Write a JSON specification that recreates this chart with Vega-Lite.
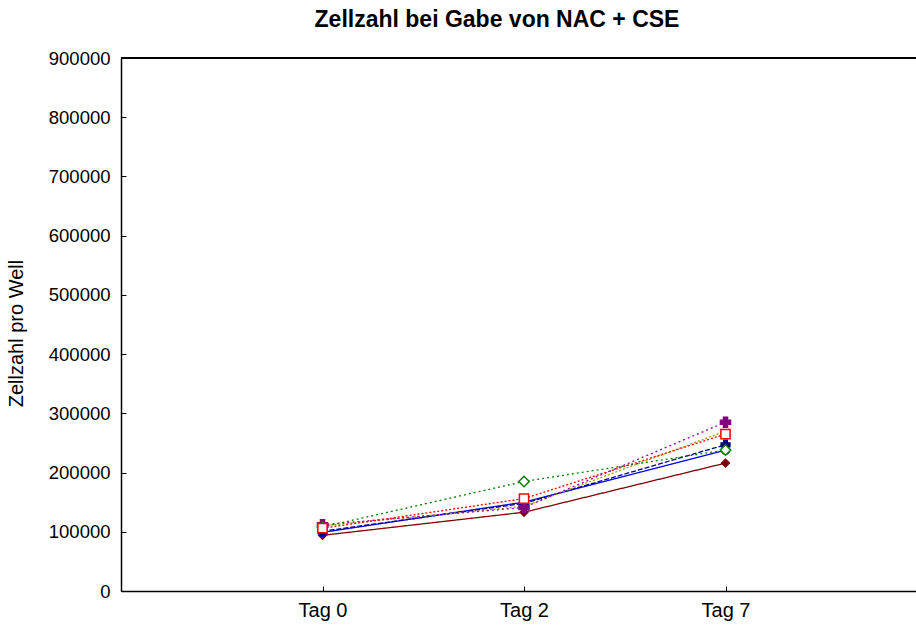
{
  "$schema": "https://vega.github.io/schema/vega-lite/v6.json",
  "width": 806,
  "height": 533,
  "autosize": {"type": "none"},
  "padding": {"left": 121, "top": 58, "right": 0, "bottom": 34},
  "background": "white",
  "config": {
    "view": {"stroke": null},
    "font": "Liberation Sans",
    "axis": {"grid": false, "domainColor": "black", "tickColor": "black", "labelColor": "black", "titleColor": "black", "labelFont": "Liberation Sans", "titleFont": "Liberation Sans"}
  },
  "title": {"text": "Zellzahl bei Gabe von NAC + CSE", "font": "Liberation Sans", "fontSize": 23, "fontWeight": "bold", "color": "black", "anchor": "middle", "frame": "group", "dx": -27, "offset": 17},
  "data": {"values": [
    {"serie": "S1", "tag": "Tag 0", "zellzahl": 94000},
    {"serie": "S1", "tag": "Tag 2", "zellzahl": 133000},
    {"serie": "S1", "tag": "Tag 7", "zellzahl": 216000},
    {"serie": "S2", "tag": "Tag 0", "zellzahl": 99000},
    {"serie": "S2", "tag": "Tag 2", "zellzahl": 150000},
    {"serie": "S2", "tag": "Tag 7", "zellzahl": 238000},
    {"serie": "S3", "tag": "Tag 0", "zellzahl": 101000},
    {"serie": "S3", "tag": "Tag 2", "zellzahl": 148000},
    {"serie": "S3", "tag": "Tag 7", "zellzahl": 247000},
    {"serie": "S5", "tag": "Tag 0", "zellzahl": 110000},
    {"serie": "S5", "tag": "Tag 2", "zellzahl": 143000},
    {"serie": "S5", "tag": "Tag 7", "zellzahl": 270000},
    {"serie": "S6", "tag": "Tag 0", "zellzahl": 112000},
    {"serie": "S6", "tag": "Tag 2", "zellzahl": 141000},
    {"serie": "S6", "tag": "Tag 7", "zellzahl": 285000},
    {"serie": "S7", "tag": "Tag 0", "zellzahl": 108000},
    {"serie": "S7", "tag": "Tag 2", "zellzahl": 185000},
    {"serie": "S7", "tag": "Tag 7", "zellzahl": 238000},
    {"serie": "S4", "tag": "Tag 0", "zellzahl": 106000},
    {"serie": "S4", "tag": "Tag 2", "zellzahl": 156000},
    {"serie": "S4", "tag": "Tag 7", "zellzahl": 265000}
  ]},
  "encoding": {
    "x": {"field": "tag", "type": "ordinal", "scale": {"type": "point", "padding": 1},
      "axis": {"title": null, "labelAngle": 0, "labelFontSize": 20, "tickSize": -5, "labelPadding": 14, "domainWidth": 1.5}},
    "y": {"field": "zellzahl", "type": "quantitative", "scale": {"domain": [0, 900000], "nice": false},
      "axis": {"title": "Zellzahl pro Well", "titleFontSize": 20, "titleFontWeight": "normal", "titlePadding": 22, "titleY": 275, "values": [0,100000,200000,300000,400000,500000,600000,700000,800000,900000], "format": "d", "labelFontSize": 18.5, "tickSize": -5, "labelPadding": 16, "domainWidth": 1.5}}
  },
  "layer": [
    {
      "mark": {"type": "rule", "color": "black", "strokeWidth": 1.5},
      "encoding": {"y": {"datum": 900000}, "x": null}
    },
    {
      "mark": {"type": "line", "strokeWidth": 1.3},
      "encoding": {
        "detail": {"field": "serie"},
        "color": {"field": "serie", "type": "nominal", "legend": null,
          "scale": {"domain": ["S1","S2","S3","S4","S5","S6","S7"], "range": ["#800000","#0000ff","#000080","#ff0000","#a0a000","#9000a0","#008000"]}},
        "strokeDash": {"field": "serie", "type": "nominal", "legend": null,
          "scale": {"domain": ["S1","S2","S3","S4","S5","S6","S7"], "range": [[1,0],[1,0],[5,2],[2,2],[2,2],[2,3],[2,3]]}}
      }
    },
    {
      "transform": [{"filter": "datum.serie !== 'S5'"}],
      "mark": {"type": "point", "strokeWidth": 1.5, "opacity": 1, "fillOpacity": 1},
      "encoding": {
        "stroke": {"field": "serie", "type": "nominal", "legend": null,
          "scale": {"domain": ["S1","S2","S3","S4","S5","S6","S7"], "range": ["#800000","#0000ff","#000080","#ff0000","#a0a000","#800080","#008000"]}},
        "fill": {"field": "serie", "type": "nominal", "legend": null,
          "scale": {"domain": ["S1","S2","S3","S4","S5","S6","S7"], "range": ["#800000","#ffffff","#000080","#ffffff","#a0a000","#800080","#ffffff"]}},
        "shape": {"field": "serie", "type": "nominal", "legend": null,
          "scale": {"domain": ["S1","S2","S3","S4","S5","S6","S7"], "range": ["diamond","circle","cross","square","circle","cross","diamond"]}},
        "size": {"field": "serie", "type": "nominal", "legend": null,
          "scale": {"domain": ["S1","S2","S3","S4","S5","S6","S7"], "range": [60,110,70,150,40,130,90]}}
      }
    }
  ]
}
